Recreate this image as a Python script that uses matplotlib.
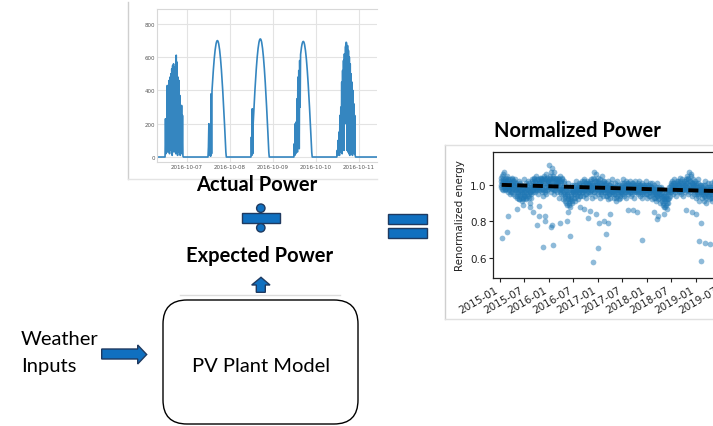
import numpy as np
import pandas as pd
import matplotlib
matplotlib.use('Agg')
import matplotlib.pyplot as plt
import matplotlib.dates as mdates
from matplotlib.patches import FancyBboxPatch, Rectangle, Circle, Polygon

# ---------------- DATA ----------------
# Actual power time series (W), 15-min samples per day starting 11:45
power_days = ['2016-10-06', '2016-10-07', '2016-10-08', '2016-10-09', '2016-10-10']
power_day_start = '11:45'
power_1006 = [0, 230, 20, 220, 60, 430, 30, 420, 90, 460, 20, 480, 150, 500, 40, 530, 10, 550,
              80, 560, 30, 540, 200, 520, 20, 612, 60, 570, 10, 480, 100, 460, 30, 370, 10, 300,
              50, 310, 20, 250, 5, 0, 0]
power_1007 = [0, 60, 200, 10, 190, 30, 5, 380, 20, 400, 443, 485, 524, 560, 592, 620, 644, 664,
              680, 691, 698, 700, 698, 691, 680, 664, 644, 620, 592, 560, 524, 485, 443, 398, 350,
              300, 249, 195, 140, 84, 28, 0, 0]
power_1008 = [0, 120, 10, 290, 20, 200, 253, 304, 355, 404, 449, 492, 531, 568, 600, 629, 653, 673,
              690, 701, 708, 710, 708, 701, 690, 673, 653, 629, 600, 568, 531, 492, 449, 404, 355,
              304, 253, 198, 142, 85, 28, 0, 0]
power_1009 = [0, 80, 10, 200, 20, 210, 40, 350, 30, 480, 90, 520, 50, 580, 300, 616, 639, 659,
              675, 686, 693, 695, 693, 686, 675, 659, 639, 616, 588, 556, 520, 482, 440, 395, 348,
              298, 247, 194, 139, 83, 28, 0, 0]
power_1010 = [0, 40, 10, 100, 20, 150, 10, 250, 30, 300, 60, 450, 20, 520, 100, 580, 40, 620,
              200, 660, 670, 690, 685, 40, 670, 30, 640, 20, 600, 10, 560, 60, 500, 20, 450, 10,
              400, 50, 320, 20, 250, 10, 0]
power_values = [power_1006, power_1007, power_1008, power_1009, power_1010]
power_yticks = [0, 200, 400, 600, 800]

# Normalized energy, two interleaved daily-ish series (every 4 days, offset by 2 days)
norm_start_a = '2015-01-05'
norm_values_a = [
    1.02, 0.99, 1.05, 1.01, 0.97, 1.03, 1.00, 1.07, 0.98, 1.02, 1.04, 0.99, 1.01, 0.96, 1.03,
    1.00, 0.97, 1.03, 0.95, 1.01, 0.99, 1.04, 0.96, 1.02, 0.98, 1.00, 0.94, 1.03, 0.97, 1.01,
    0.96, 0.93, 0.99, 0.95, 1.02, 0.92, 0.97, 0.94, 1.00, 0.91, 0.96, 0.98, 0.93, 1.03, 0.95,
    0.97, 0.94, 1.01, 0.92, 0.98, 0.95, 1.02, 0.93, 0.99, 0.96, 0.90, 1.00, 0.95, 0.97, 1.03,
    1.01, 0.97, 1.04, 0.99, 1.02, 0.96, 1.05, 1.00, 0.98, 1.03, 0.95, 1.01, 0.99, 1.04, 0.97,
    1.00, 1.04, 0.96, 1.02, 0.94, 1.05, 0.99, 1.03, 0.97, 1.06, 0.95, 1.01, 1.04, 0.98, 1.02,
    1.03, 1.11, 0.99, 1.05, 0.96, 1.02, 1.09, 0.98, 1.04, 0.95, 1.07, 1.00, 0.97, 1.03, 1.01,
    1.00, 0.96, 1.04, 0.93, 1.02, 0.98, 1.05, 0.95, 1.01, 0.97, 1.03, 0.92, 0.99, 1.02, 0.96,
    0.95, 0.91, 0.99, 0.89, 0.96, 0.93, 1.01, 0.90, 0.97, 0.92, 0.88, 0.98, 0.94, 0.91, 1.00,
    0.96, 0.93, 1.00, 0.95, 0.91, 0.98, 1.02, 0.94, 0.97, 0.99, 0.92, 1.01, 0.96, 0.98, 0.94,
    0.99, 0.96, 1.02, 0.94, 1.00, 0.97, 1.03, 0.95, 0.98, 1.01, 0.93, 0.99, 1.02, 0.96, 1.00,
    0.98, 1.01, 0.95, 1.03, 0.97, 1.00, 0.93, 1.04, 0.99, 1.07, 0.96, 1.02, 0.94, 1.06, 0.98,
    1.00, 0.95, 1.04, 0.97, 1.01, 0.93, 1.03, 0.98, 0.96, 1.05, 0.99, 0.94, 1.02, 0.97, 1.00,
    0.98, 0.94, 1.01, 0.96, 0.99, 0.92, 1.02, 0.97, 0.95, 1.00, 0.93, 0.99, 1.03, 0.96, 0.98,
    0.96, 0.99, 0.93, 1.01, 0.95, 0.91, 0.98, 1.02, 0.94, 0.97, 0.92, 1.00, 0.96, 0.93, 0.99,
    0.98, 0.95, 1.01, 0.97, 1.03, 0.94, 0.99, 0.96, 1.02, 0.93, 0.98, 1.00, 0.95, 1.01, 0.97,
    0.99, 0.96, 1.02, 0.94, 0.98, 1.00, 0.95, 1.01, 0.97, 0.93, 0.99, 1.02, 0.96, 0.98, 1.00,
    0.97, 1.01, 0.95, 0.99, 1.02, 0.94, 0.98, 0.96, 1.01, 0.93, 0.99, 0.97, 1.00, 0.95, 0.98,
    0.99, 0.95, 1.02, 0.97, 0.93, 1.00, 0.96, 0.98, 1.01, 0.94, 0.97, 0.99, 0.92, 1.01, 0.96,
    0.97, 0.93, 1.00, 0.95, 0.91, 0.98, 0.94, 1.01, 0.96, 0.92, 0.99, 0.95, 0.97, 0.90, 0.98,
    0.95, 0.91, 0.98, 0.89, 0.94, 0.92, 0.97, 0.88, 0.93, 0.96, 0.90, 0.87, 0.95, 0.92, 0.99,
    0.97, 0.94, 1.00, 0.96, 1.02, 0.98, 0.95, 1.01, 0.99, 1.03, 0.96, 1.00, 0.98, 0.94, 1.01,
    0.99, 1.02, 0.96, 1.00, 0.98, 1.04, 0.95, 1.01, 0.97, 1.03, 0.99, 0.94, 1.02, 0.98, 1.00,
    1.01, 0.97, 1.05, 0.99, 1.03, 0.95, 1.07, 1.00, 0.96, 1.02, 0.98, 1.06, 0.94, 1.01, 0.99,
    1.00, 0.95, 1.02, 0.97, 0.93, 1.01, 0.96, 0.99, 1.03, 0.94, 0.98, 0.91, 1.00, 0.96, 0.97,
    0.97, 0.93, 1.00, 0.95, 0.91, 0.98, 1.02, 0.94, 0.96, 0.90, 0.99, 0.95, 1.01, 0.92, 0.97,
    0.96, 0.99, 0.93, 1.01, 0.95, 0.91, 0.98, 0.94, 1.02, 0.96, 0.92, 0.99, 0.95, 0.97, 0.93,
]
norm_start_b = '2015-01-07'
norm_values_b = [
    1.00, 1.04, 0.98, 1.02, 1.06, 0.99, 1.01, 0.97, 1.03, 1.00, 0.98, 1.05, 1.02, 0.99, 1.01,
    0.98, 1.02, 0.99, 1.01, 0.96, 1.03, 0.98, 1.00, 0.95, 1.02, 0.99, 1.01, 0.97, 1.00, 0.98,
    0.94, 0.98, 0.96, 0.92, 0.99, 0.95, 1.01, 0.97, 0.93, 0.98, 0.95, 0.92, 0.99, 0.96, 0.94,
    0.99, 0.96, 0.93, 0.98, 1.00, 0.94, 0.97, 0.95, 1.01, 0.98, 0.96, 0.93, 0.99, 1.02, 0.96,
    0.99, 1.03, 1.00, 0.97, 1.02, 0.99, 1.01, 0.97, 1.03, 0.99, 1.00, 1.02, 0.98, 1.01, 1.03,
    1.02, 0.98, 1.03, 1.00, 0.97, 1.02, 1.04, 0.96, 1.01, 0.99, 1.03, 0.97, 1.00, 1.02, 0.99,
    1.01, 1.04, 1.00, 1.07, 1.02, 0.98, 1.03, 1.05, 1.00, 1.02, 0.97, 1.04, 1.01, 0.99, 1.03,
    1.02, 0.99, 1.01, 0.97, 1.03, 1.00, 0.96, 1.02, 0.98, 1.04, 0.99, 0.95, 1.01, 0.98, 0.94,
    0.93, 0.97, 0.90, 0.95, 0.99, 0.92, 0.94, 0.89, 0.96, 0.91, 0.95, 0.93, 0.90, 0.97, 0.96,
    0.98, 0.95, 0.97, 0.99, 0.93, 0.96, 1.00, 0.98, 0.95, 0.97, 1.00, 0.96, 0.94, 0.99, 0.97,
    1.01, 0.98, 0.97, 1.00, 0.96, 1.02, 0.99, 0.97, 1.01, 0.95, 1.00, 0.98, 0.97, 1.01, 0.99,
    1.00, 0.96, 1.02, 0.99, 0.97, 1.01, 0.98, 1.00, 0.96, 1.03, 1.00, 0.97, 1.02, 0.99, 1.01,
    0.98, 1.02, 0.99, 0.96, 1.00, 0.98, 1.01, 0.95, 1.00, 0.97, 1.02, 0.98, 0.96, 1.01, 0.99,
    0.96, 1.00, 0.97, 0.94, 0.99, 0.97, 0.95, 1.00, 0.98, 0.96, 1.01, 0.97, 0.95, 0.99, 0.97,
    0.98, 0.95, 0.97, 0.99, 0.93, 0.97, 1.00, 0.96, 0.98, 0.95, 0.99, 0.97, 0.94, 0.98, 0.96,
    0.96, 1.00, 0.98, 0.95, 0.99, 1.01, 0.97, 1.00, 0.96, 0.99, 1.01, 0.97, 0.99, 0.96, 1.00,
    0.97, 1.00, 0.98, 0.96, 1.01, 0.98, 0.97, 0.99, 1.00, 0.96, 0.98, 1.00, 0.97, 0.99, 0.96,
    0.99, 0.97, 1.00, 0.96, 0.98, 1.00, 0.97, 0.99, 0.95, 0.98, 1.00, 0.96, 0.98, 0.99, 0.97,
    0.97, 1.00, 0.98, 0.95, 0.99, 0.97, 1.00, 0.94, 0.98, 0.96, 0.99, 0.97, 0.95, 0.98, 0.99,
    0.95, 0.98, 0.96, 0.93, 0.99, 0.95, 0.97, 0.94, 0.98, 0.96, 0.93, 0.97, 0.95, 0.99, 0.94,
    0.93, 0.96, 0.90, 0.94, 0.92, 0.88, 0.95, 0.91, 0.89, 0.94, 0.92, 0.96, 0.90, 0.93, 0.97,
    0.99, 0.96, 0.98, 1.01, 0.97, 1.00, 0.99, 0.97, 1.01, 0.98, 1.00, 0.97, 0.99, 1.02, 0.98,
    1.00, 0.97, 1.01, 0.99, 0.96, 1.02, 0.98, 1.00, 0.99, 0.97, 1.01, 0.98, 1.00, 0.96, 1.02,
    0.99, 1.03, 0.98, 1.01, 1.04, 0.97, 1.00, 1.02, 0.98, 1.05, 0.99, 1.01, 0.97, 1.03, 1.00,
    0.98, 1.01, 0.96, 0.99, 1.00, 0.95, 0.98, 1.01, 0.97, 0.99, 0.95, 0.98, 0.97, 1.00, 0.96,
    0.95, 0.99, 0.96, 0.98, 0.94, 0.97, 1.00, 0.96, 0.93, 0.98, 0.96, 0.99, 0.94, 0.97, 0.95,
    0.98, 0.95, 0.97, 0.99, 0.93, 0.97, 1.00, 0.96, 0.98, 0.94, 0.97, 1.00, 0.96, 0.95, 0.98,
]
# Scattered low points
outlier_dates = ['2015-01-12', '2015-02-20', '2015-02-27', '2015-05-09', '2015-06-20',
                 '2015-09-05', '2015-10-01', '2015-10-15', '2015-10-20', '2015-11-14',
                 '2015-12-01', '2015-12-05', '2016-01-15', '2016-01-20', '2016-02-03',
                 '2016-03-22', '2016-05-15', '2016-05-20', '2016-06-05', '2016-09-15',
                 '2016-10-20', '2016-11-02', '2016-11-25', '2016-12-20', '2017-01-01',
                 '2017-01-05', '2017-02-14', '2017-03-03', '2017-03-20', '2017-04-01',
                 '2017-08-15', '2017-09-20', '2017-10-20', '2017-11-28', '2018-02-20',
                 '2018-03-18', '2018-03-25', '2018-10-20', '2018-12-05', '2019-01-05',
                 '2019-01-28', '2019-02-08', '2019-02-12', '2019-03-08', '2019-04-15',
                 '2015-08-10', '2016-08-20', '2018-05-10']
outlier_values = [0.71, 0.74, 0.83, 0.87, 0.89,
                  0.85, 0.78, 0.885, 0.83, 0.66,
                  0.83, 0.80, 0.77, 0.78, 0.67,
                  0.79, 0.80, 0.85, 0.72, 0.87,
                  0.82, 0.855, 0.575, 0.84, 0.655,
                  0.79, 0.80, 0.73, 0.79, 0.84,
                  0.86, 0.86, 0.85, 0.70, 0.85,
                  0.815, 0.83, 0.86, 0.85, 0.84,
                  0.69, 0.583, 0.79, 0.68, 0.675,
                  0.88, 0.88, 0.84]
trend_dates = ['2015-01-13', '2019-09-13']
trend_values = [1.0, 0.964]
norm_yticks = [0.6, 0.8, 1.0]

# ---------------- FIGURE ----------------
W, H = 713, 427
fig = plt.figure(figsize=(W / 100, H / 100), dpi=100)
fig.patch.set_facecolor('white')
ax0 = fig.add_axes([0, 0, 1, 1])
ax0.set_xlim(0, W)
ax0.set_ylim(H, 0)
ax0.axis('off')


def px_axes(l, t, r, b):
    return fig.add_axes([l / W, 1 - b / H, (r - l) / W, (b - t) / H])


# screenshot borders
gray = '#cfcfcf'
ax0.plot([128, 128], [3, 180], color=gray, lw=1)
ax0.plot([128, 377], [180, 180], color='#e4e4e4', lw=1)
ax0.plot([180, 340], [296, 296], color='#dcdcdc', lw=1)
ax0.plot([445, 445], [146, 320], color=gray, lw=1)
ax0.plot([445, 713], [146, 146], color='#e0e0e0', lw=1)
ax0.plot([445, 713], [319.5, 319.5], color='#e0e0e0', lw=1)

# ---- Inset 1: actual power ----
ax1 = px_axes(157, 10, 377, 163)
power = pd.Series(0.0, index=pd.date_range('2016-10-06 00:00', '2016-10-12 00:00', freq='15min'))
for day, vals in zip(power_days, power_values):
    idx = pd.date_range(f'{day} {power_day_start}', periods=len(vals), freq='15min')
    power.loc[idx] = vals
ax1.plot(power.index, power.values, color='#3586c0', lw=1.2)
ax1.set_xlim(pd.Timestamp('2016-10-06 07:15'), pd.Timestamp('2016-10-11 10:13'))
ax1.set_ylim(-30, 890)
ax1.set_yticks(power_yticks)
ax1.xaxis.set_major_locator(mdates.DayLocator())
ax1.xaxis.set_major_formatter(mdates.DateFormatter('%Y-%m-%d'))
ax1.grid(True, color='#e3e3e3', lw=0.8)
ax1.set_axisbelow(True)
for s in ax1.spines.values():
    s.set_color('#d8d8d8')
    s.set_linewidth(0.8)
ax1.spines['right'].set_visible(False)
ax1.tick_params(length=0, labelsize=4, colors='#555555', pad=1.5)

# ---- Inset 2: normalized power ----
ax2 = px_axes(493, 153, 730, 279)
dates_a = pd.date_range(norm_start_a, periods=len(norm_values_a), freq='4D')
dates_b = pd.date_range(norm_start_b, periods=len(norm_values_b), freq='4D')
sc_kw = dict(s=17, color='#1f77b4', alpha=0.5, linewidths=0)
ax2.scatter(dates_a, norm_values_a, **sc_kw)
ax2.scatter(dates_b, norm_values_b, **sc_kw)
ax2.scatter(pd.to_datetime(outlier_dates), outlier_values, **sc_kw)
ax2.plot(pd.to_datetime(trend_dates), trend_values, color='black', lw=2.8,
         linestyle=(0, (2.6, 1.4)))
ax2.set_xlim(pd.Timestamp('2014-11-09'), pd.Timestamp('2019-09-13'))
ax2.set_ylim(0.49, 1.18)
ax2.set_yticks(norm_yticks)
ax2.xaxis.set_major_locator(mdates.MonthLocator(bymonth=[1, 7]))
ax2.xaxis.set_major_formatter(mdates.DateFormatter('%Y-%m'))
ax2.tick_params(labelsize=7.5, length=3, pad=1.5, width=0.8, colors='#222222')
for lbl in ax2.get_xticklabels():
    lbl.set_rotation(30)
    lbl.set_ha('right')
ax2.set_ylabel('Renormalized energy', fontsize=7.5, labelpad=4, color='#222222')
for s in ax2.spines.values():
    s.set_linewidth(0.9)
    s.set_color('#222222')

# ---- Diagram texts ----
font = 'Lato'
ax0.text(577, 136.7, 'Normalized Power', ha='center', va='baseline', fontsize=14.5,
         fontweight='bold', family=font)
ax0.text(257, 190.7, 'Actual Power', ha='center', va='baseline', fontsize=14.5,
         fontweight='bold', family=font)
ax0.text(260, 262, 'Expected Power', ha='center', va='baseline', fontsize=14.5,
         fontweight='bold', family=font)
ax0.text(261, 371.7, 'PV Plant Model', ha='center', va='baseline', fontsize=14.5, family=font)
ax0.text(21, 345, 'Weather', ha='left', va='baseline', fontsize=14.5, family=font)
ax0.text(21, 371.7, 'Inputs', ha='left', va='baseline', fontsize=14.5, family=font)

# ---- Diagram shapes ----
blue = '#1070c0'
edge = '#1f3a60'
ax0.add_patch(Rectangle((241.7, 214.3), 38.3, 10, fc=blue, ec=edge, lw=1))
ax0.add_patch(Circle((260.8, 209.2), 4.2, fc=blue, ec=edge, lw=1))
ax0.add_patch(Circle((260.8, 228.8), 4.2, fc=blue, ec=edge, lw=1))
ax0.add_patch(Rectangle((388, 215), 39, 10, fc=blue, ec=edge, lw=1))
ax0.add_patch(Rectangle((388, 229), 39, 10, fc=blue, ec=edge, lw=1))
ax0.add_patch(Polygon([(261, 278.3), (270, 286), (265.3, 286), (265.3, 293.3), (256.3, 293.3),
                       (256.3, 286), (251.7, 286)], closed=True, fc=blue, ec=edge, lw=1))
ax0.add_patch(Polygon([(101.7, 350), (137.7, 350), (137.7, 346), (146.7, 355.5), (137.7, 365),
                       (137.7, 360), (101.7, 360)], closed=True, fc=blue, ec=edge, lw=1))
ax0.add_patch(FancyBboxPatch((163, 301), 195, 124, boxstyle='round,pad=0,rounding_size=24',
                             fc='white', ec='black', lw=1))

fig.savefig('out.png', dpi=100, facecolor='white')
